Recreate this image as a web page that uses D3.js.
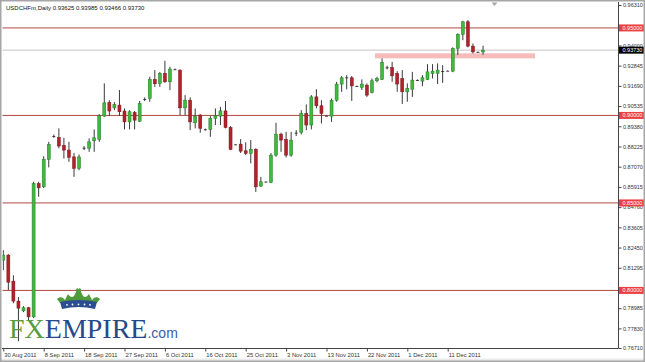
<!DOCTYPE html>
<html>
<head>
<meta charset="utf-8">
<script src="https://cdn.jsdelivr.net/npm/d3@7"></script>
<style>
  body { margin: 0; background: #fff; }
  svg { display: block; font-family: "Liberation Sans", Arial, sans-serif; }
</style>
</head>
<body>
<div id="chart"></div>
<script>
// USDCHFm daily bars (MT4 includes the short Sunday bars)
var dates = [
  "2011-08-30","2011-08-31","2011-09-01","2011-09-02","2011-09-04","2011-09-05","2011-09-06","2011-09-07",
  "2011-09-08","2011-09-09","2011-09-11","2011-09-12","2011-09-13","2011-09-14","2011-09-15","2011-09-16",
  "2011-09-18","2011-09-19","2011-09-20","2011-09-21","2011-09-22","2011-09-23","2011-09-25","2011-09-26",
  "2011-09-27","2011-09-28","2011-09-29","2011-09-30","2011-10-02","2011-10-03","2011-10-04","2011-10-05",
  "2011-10-06","2011-10-07","2011-10-09","2011-10-10","2011-10-11","2011-10-12","2011-10-13","2011-10-14",
  "2011-10-16","2011-10-17","2011-10-18","2011-10-19","2011-10-20","2011-10-21","2011-10-23","2011-10-24",
  "2011-10-25","2011-10-26","2011-10-27","2011-10-28","2011-10-30","2011-10-31","2011-11-01","2011-11-02",
  "2011-11-03","2011-11-04","2011-11-06","2011-11-07","2011-11-08","2011-11-09","2011-11-10","2011-11-11",
  "2011-11-13","2011-11-14","2011-11-15","2011-11-16","2011-11-17","2011-11-18","2011-11-20","2011-11-21",
  "2011-11-22","2011-11-23","2011-11-24","2011-11-25","2011-11-27","2011-11-28","2011-11-29","2011-11-30",
  "2011-12-01","2011-12-02","2011-12-04","2011-12-05","2011-12-06","2011-12-07","2011-12-08","2011-12-09",
  "2011-12-11","2011-12-12","2011-12-13","2011-12-14","2011-12-15","2011-12-16","2011-12-18","2011-12-19"
];
var opens = [
  .8173,.8202,.8053,.7939,.7883,.7901,.7849,.8611,.8592,.8749,.8882,.8874,.8829,.8802,.8763,.8697,
  .8815,.8812,.8855,.8863,.8996,.9074,.9043,.9059,.9025,.8963,.9017,.8967,.9093,.9097,.9206,.9183,
  .9240,.9192,.9263,.9259,.9043,.9087,.8958,.9002,.8920,.8920,.8984,.8996,.9026,.8931,.8834,.8836,
  .8798,.8783,.8807,.8596,.8621,.8617,.8773,.8893,.8863,.8773,.8901,.8903,.9011,.8945,.9106,.9055,
  .8998,.8996,.9087,.9179,.9217,.9215,.9167,.9160,.9173,.9131,.9198,.9206,.9274,.9274,.9240,.9211,
  .9135,.9150,.9202,.9196,.9206,.9240,.9240,.9253,.9255,.9253,.9383,.9463,.9535,.9396,.9363,.93625
];
var highs = [
  .8230,.8207,.8087,.7962,.7910,.7906,.8621,.8621,.8767,.8849,.8891,.8926,.8872,.8849,.8786,.8777,
  .8825,.8869,.8920,.9007,.9183,.9087,.9076,.9145,.9040,.9030,.9026,.9083,.9103,.9221,.9259,.9249,
  .9312,.9278,.9268,.9263,.9116,.9103,.9040,.9007,.8925,.8996,.9040,.9049,.9082,.8939,.8836,.8865,
  .8846,.8859,.8812,.8649,.8623,.8785,.8958,.8901,.8906,.8906,.8916,.9030,.9063,.9116,.9150,.9087,
  .9000,.9097,.9192,.9225,.9230,.9225,.9170,.9206,.9183,.9211,.9221,.9326,.9284,.9306,.9253,.9259,
  .9183,.9249,.9206,.9230,.9293,.9293,.9297,.9287,.9257,.9389,.9469,.9541,.9545,.9411,.9365,.93985
];
var lows = [
  .8116,.8002,.7927,.7710,.7876,.7830,.7842,.8535,.8585,.8703,.8872,.8812,.8754,.8735,.8649,.8687,
  .8802,.8792,.8792,.8849,.8992,.8996,.9030,.8998,.8920,.8920,.8920,.8963,.9082,.9078,.9163,.9163,
  .9186,.9145,.9260,.9002,.9002,.8916,.8926,.8901,.8914,.8878,.8945,.8945,.8926,.8802,.8832,.8785,
  .8773,.8726,.8563,.8592,.8619,.8613,.8764,.8792,.8760,.8764,.8882,.8891,.8916,.8920,.9040,.8954,
  .8996,.8963,.9078,.9135,.9149,.9083,.9164,.9145,.9106,.9126,.9189,.9202,.9263,.9192,.9135,.9065,
  .9078,.9106,.9198,.9167,.9202,.9211,.9179,.9186,.9253,.9247,.9345,.9430,.9389,.9354,.9361,.93466
];
var closes = [
  .8202,.8047,.7939,.7899,.7901,.7849,.8611,.8586,.8749,.8834,.8882,.8825,.8802,.8760,.8697,.8763,
  .8815,.8849,.8872,.8998,.9072,.9025,.9063,.9021,.8963,.9021,.8973,.9069,.9093,.9206,.9181,.9240,
  .9192,.9265,.9263,.9043,.9087,.8963,.8996,.8926,.8920,.8983,.8998,.9026,.8931,.8806,.8834,.8796,
  .8783,.8806,.8592,.8621,.8621,.8773,.8893,.8859,.8773,.8859,.8901,.9011,.8945,.9106,.9055,.9011,
  .8998,.9087,.9179,.9215,.9217,.9169,.9167,.9179,.9116,.9198,.9211,.9303,.9274,.9226,.9179,.9135,
  .9154,.9202,.9202,.9215,.9249,.9253,.9259,.9253,.9255,.9383,.9463,.9535,.9396,.9363,.9363,.93730
];

var tickDates = ["2011-08-30","2011-09-08","2011-09-18","2011-09-27","2011-10-06","2011-10-16",
                 "2011-10-25","2011-11-03","2011-11-13","2011-11-22","2011-12-01","2011-12-11"];
var tickLabels = ["30 Aug 2011","8 Sep 2011","18 Sep 2011","27 Sep 2011","6 Oct 2011","16 Oct 2011",
                  "25 Oct 2011","3 Nov 2011","13 Nov 2011","22 Nov 2011","1 Dec 2011","11 Dec 2011"];
// 0.95155 and 0.80140 sit fully under the level tags, so they are left out
var priceTicks = [0.96310,0.94000,0.92845,0.91690,0.90535,0.89380,0.88225,0.87070,
                  0.85915,0.84760,0.83605,0.82450,0.81295,0.78985,0.77830,0.76710];
var levels = [0.95, 0.90, 0.85, 0.80];
var lastPrice = 0.93730;
// support zone rectangle: bar positions and price bounds
var zoneBars = [73.6, 105.3];
var zonePrices = [0.9326, 0.9355];

var W = 645, H = 362;
var axisX = 618, axisY = 348;

var svg = d3.select("#chart").append("svg")
    .attr("width", W)
    .attr("height", H);

var x = d3.scaleLinear()
    .domain([0, dates.length - 1])
    .range([3.3, 483.05]);
var y = d3.scaleLinear()
    .domain([0.7671, 0.9631])
    .range([348, 5]);

// frame
svg.append("rect").attr("x", 0).attr("y", 0).attr("width", W).attr("height", H).attr("fill", "#fff");
svg.append("rect").attr("x", 0).attr("y", 358.5).attr("width", W).attr("height", 4).attr("fill", "#ebebeb");

svg.append("defs").append("clipPath").attr("id", "plotclip")
  .append("rect").attr("x", 2.5).attr("y", 2).attr("width", axisX - 2.5).attr("height", axisY - 2);

var plot = svg.append("g").attr("clip-path", "url(#plotclip)");

// current price line
plot.append("line")
    .attr("x1", 0).attr("x2", axisX)
    .attr("y1", y(lastPrice)).attr("y2", y(lastPrice))
    .attr("stroke", "#c4c4c4").attr("stroke-width", 1);

// round-number levels
plot.selectAll(".level")
  .data(levels)
  .enter().append("line")
    .attr("x1", 0).attr("x2", axisX)
    .attr("y1", function(d) { return y(d); })
    .attr("y2", function(d) { return y(d); })
    .attr("stroke", "#b04a42").attr("stroke-width", 1);

// pink zone
plot.append("rect")
    .attr("x", x(zoneBars[0]))
    .attr("y", y(zonePrices[1]))
    .attr("width", x(zoneBars[1]) - x(zoneBars[0]))
    .attr("height", y(zonePrices[0]) - y(zonePrices[1]))
    .attr("fill", "#f6bcbc");

// logo
var logo = svg.append("g");
var crown = logo.append("g").attr("transform", "translate(57,288)");
crown.append("path")
    .attr("d", "M0,11 C3,8 6,9 8,12 L11,6 C13,9 15,10 17,8 L19,4 C18,1 21,-1 21.5,1.5 C22,-1 25,1 24,4 L26,8 C28,10 30,9 32,6 L35,12 C37,9 40,8 43,11 L40,15 L3,15 Z")
    .attr("fill", "#4f9b3c");
crown.append("path")
    .attr("d", "M3,14 Q21.5,10 40,14 L38,21 Q21.5,17 5,21 Z")
    .attr("fill", "#2b4e93");
crown.selectAll("circle")
  .data([10, 15.5, 21.5, 27.5, 33])
  .enter().append("circle")
    .attr("cx", function(d) { return d; })
    .attr("cy", function(d) { return 17.3 - 0.9 * Math.cos((d - 21.5) / 12); })
    .attr("r", 0.9).attr("fill", "#fff");
var logoText = logo.append("text")
    .attr("x", 9).attr("y", 338)
    .attr("font-family", "'Liberation Serif', 'Times New Roman', serif")
    .attr("font-size", 28);
logoText.append("tspan").attr("fill", "#5a9d40").text("FX");
logoText.append("tspan").attr("fill", "#27488a").text("EMPIRE");
logoText.append("tspan")
    .attr("fill", "#3a5ca8")
    .attr("font-family", "'Liberation Sans', Arial, sans-serif")
    .attr("font-size", 14)
    .text(".com");

// candles
var bars = d3.range(dates.length);
var candles = plot.append("g");
candles.selectAll(".wick")
  .data(bars)
  .enter().append("line")
    .attr("x1", function(i) { return x(i); })
    .attr("x2", function(i) { return x(i); })
    .attr("y1", function(i) { return y(highs[i]); })
    .attr("y2", function(i) { return y(lows[i]); })
    .attr("stroke", "#3a3a3a").attr("stroke-width", 1);

var bw = 3;
candles.selectAll(".body")
  .data(bars)
  .enter().append("rect")
    .attr("x", function(i) { return x(i) - bw / 2; })
    .attr("y", function(i) { return y(Math.max(opens[i], closes[i])); })
    .attr("width", bw)
    .attr("height", function(i) { return Math.max(0.8, Math.abs(y(opens[i]) - y(closes[i]))); })
    .attr("fill", function(i) {
      if (opens[i] === closes[i]) return "#222";
      return closes[i] > opens[i] ? "#3fba3f" : "#b3222b";
    })
    .attr("stroke", function(i) {
      if (opens[i] === closes[i]) return "none";
      return closes[i] > opens[i] ? "#257a25" : "#7a151a";
    })
    .attr("stroke-width", 0.5);

// shift marker
svg.append("path")
    .attr("d", "M491.5,2.5 L497.5,2.5 L494.5,6 Z")
    .attr("fill", "#a8a8a8");

// title
svg.append("text")
    .attr("x", 6).attr("y", 10)
    .attr("font-size", 6)
    .attr("fill", "#111")
    .text("USDCHFm,Daily  0.93625 0.93985 0.93466 0.93730");

// bottom axis
svg.append("line")
    .attr("x1", 2).attr("x2", axisX)
    .attr("y1", axisY + 0.5).attr("y2", axisY + 0.5)
    .attr("stroke", "#444");
var xAxis = d3.axisBottom(x)
    .tickValues(tickDates.map(function(d) { return dates.indexOf(d); }))
    .tickSize(3)
    .tickFormat(function(d, i) { return tickLabels[i]; });
svg.append("g")
    .attr("transform", "translate(0," + (axisY + 0.5) + ")")
    .call(xAxis)
    .call(function(g) { g.select(".domain").remove(); })
    .call(function(g) {
      g.selectAll("line").attr("stroke", "#444");
      g.selectAll("text")
        .attr("text-anchor", "start")
        .attr("x", 0.5).attr("y", 8.5).attr("dy", 0)
        .attr("font-size", 5.8)
        .attr("font-family", "'Liberation Sans', Arial, sans-serif")
        .attr("fill", "#333");
    });

// right axis
svg.append("line")
    .attr("x1", axisX + 0.5).attr("x2", axisX + 0.5)
    .attr("y1", 2).attr("y2", axisY + 0.5)
    .attr("stroke", "#444");
var yAxis = d3.axisRight(y)
    .tickValues(priceTicks)
    .tickSize(3)
    .tickFormat(d3.format(".5f"));
svg.append("g")
    .attr("transform", "translate(" + (axisX + 0.5) + ",0)")
    .call(yAxis)
    .call(function(g) { g.select(".domain").remove(); })
    .call(function(g) {
      g.selectAll("line").attr("stroke", "#444");
      g.selectAll("text")
        .attr("x", 4.5)
        .attr("font-size", 5.5)
        .attr("font-family", "'Liberation Sans', Arial, sans-serif")
        .attr("fill", "#333");
    });

// price tags
var tags = levels.map(function(v) { return {v: v, fill: "#ec4040"}; })
    .concat([{v: lastPrice, fill: "#000"}]);
var tag = svg.selectAll(".tag")
  .data(tags)
  .enter().append("g")
    .attr("transform", function(d) { return "translate(" + (axisX + 1) + "," + y(d.v) + ")"; });
tag.append("rect")
    .attr("x", 0).attr("y", -3.5)
    .attr("width", 25).attr("height", 7)
    .attr("fill", function(d) { return d.fill; });
tag.append("text")
    .attr("x", 3.5).attr("y", 2)
    .attr("font-size", 5.5)
    .attr("fill", "#fff")
    .text(function(d) { return d3.format(".5f")(d.v); });

// window border
svg.append("rect")
    .attr("x", 0.75).attr("y", 0.75)
    .attr("width", W - 1.5).attr("height", H - 1.5)
    .attr("fill", "none")
    .attr("stroke", "#a6a6a6").attr("stroke-width", 1.5);
</script>
</body>
</html>
